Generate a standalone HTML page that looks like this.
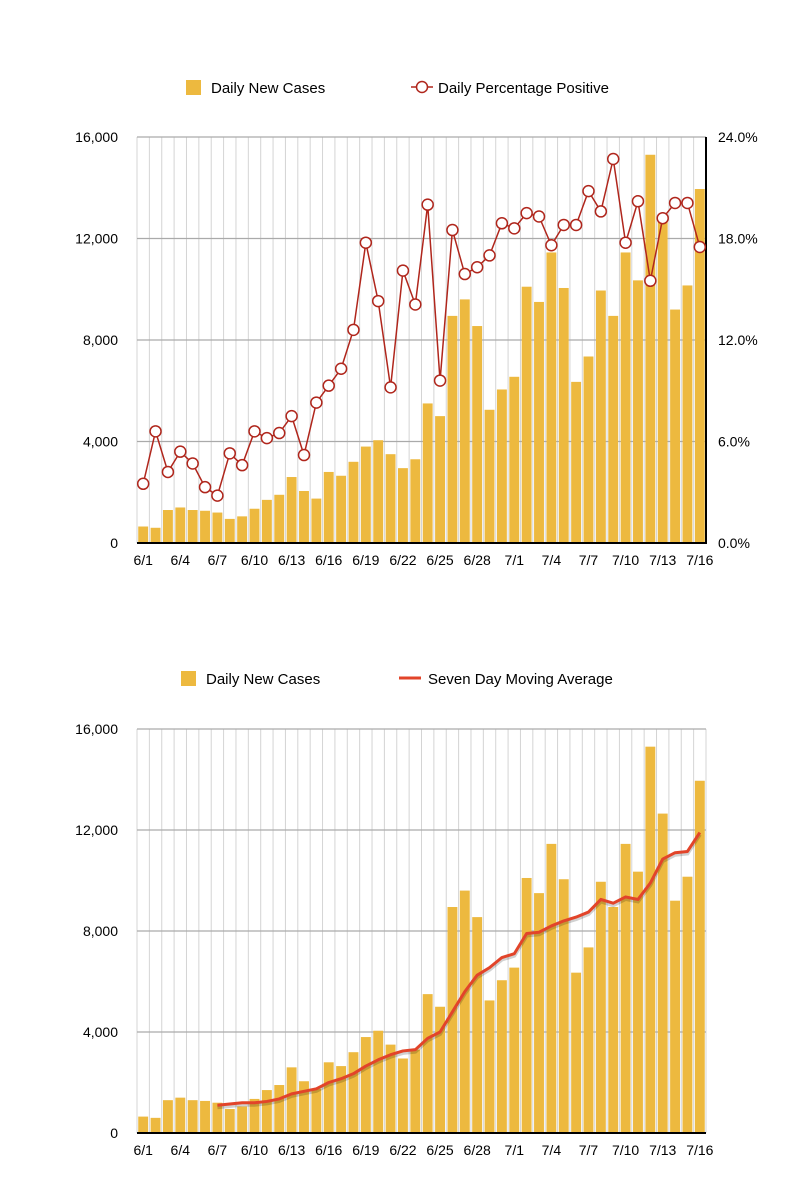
<!DOCTYPE html>
<html><head><meta charset="utf-8"><style>
body{margin:0;background:#fff;}
svg{display:block;font-family:"Liberation Sans",Arial,sans-serif;}
</style></head><body>
<svg id="s" width="811" height="1200" viewBox="0 0 811 1200"></svg>
<script>
const dates=[];
for(let d=1;d<=30;d++)dates.push('6/'+d);
for(let d=1;d<=16;d++)dates.push('7/'+d);
const cases=[650,600,1300,1400,1300,1270,1200,950,1050,1350,1700,1900,2600,2050,1750,2800,2650,3200,3800,4050,3500,2950,3300,5500,5000,8950,9600,8550,5250,6050,6550,10100,9500,11450,10050,6350,7350,9950,8950,11450,10350,15300,12650,9200,10150,13950];
const pct=[3.5,6.6,4.2,5.4,4.7,3.3,2.8,5.3,4.6,6.6,6.2,6.5,7.5,5.2,8.3,9.3,10.3,12.6,17.75,14.3,9.2,16.1,14.1,20.0,9.6,18.5,15.9,16.3,17.0,18.9,18.6,19.5,19.3,17.6,18.8,18.8,20.8,19.6,22.7,17.75,20.2,15.5,19.2,20.1,20.1,17.5];
const avg=[1100,1150,1200,1200,1250,1350,1550,1650,1750,2000,2150,2350,2650,2900,3100,3250,3300,3750,4000,4800,5600,6250,6550,6950,7100,7900,7950,8200,8400,8550,8750,9250,9100,9350,9250,9900,10850,11100,11150,11900];
const avgStart=6;
const leftTicks=[0,4000,8000,12000,16000];
const leftTickLabels=['0','4,000','8,000','12,000','16,000'];
const rightTickLabels=['0.0%','6.0%','12.0%','18.0%','24.0%'];
const dateLabelIdx=[0,3,6,9,12,15,18,21,24,27,30,33,36,39,42,45];

const NS='http://www.w3.org/2000/svg';
const svg=document.getElementById('s');
function el(t,a,p){const e=document.createElementNS(NS,t);for(const k in a)e.setAttribute(k,a[k]);(p||svg).appendChild(e);return e;}

function chart(cfg){
  const g=el('g',{});
  
  
  const L=cfg.L,R=cfg.R,T=cfg.T,B=cfg.B,n=dates.length;
  const slot=(R-L)/n;
  const x=i=>L+slot*(i+0.5);
  const y=v=>B-(v/16000)*(B-T);
  for(let i=0;i<=n;i++){const l=el('line',{x1:L+slot*i,x2:L+slot*i,y1:T,y2:B,stroke:'#d4d4d4','stroke-width':1},g);
    }
  leftTicks.forEach((v,k)=>{
    const l=el('line',{x1:L,x2:R,y1:y(v),y2:y(v),stroke:'#aaa','stroke-width':1.2},g);
    
    const t=el('text',{x:L-19,y:y(v)+5,'text-anchor':'end','font-size':14,fill:'#000'},g);
    t.textContent=leftTickLabels[k];
    
    if(cfg.right){const r=el('text',{x:R+12,y:y(v)+5,'font-size':14,fill:'#000'},g);
      r.textContent=rightTickLabels[k];
      }
  });
  cases.forEach((v,i)=>{
    const b=el('rect',{x:x(i)-slot*0.4,y:y(v),width:slot*0.8,height:B-y(v),fill:'#edb93f'},g);
    
  });
  const ax=el('line',{x1:L,x2:R,y1:B,y2:B,stroke:'#000','stroke-width':2},g);
  
  if(cfg.right){const ra=el('line',{x1:R,x2:R,y1:T,y2:B+1,stroke:'#000','stroke-width':2},g);
    }
  dateLabelIdx.forEach(i=>{
    const t=el('text',{x:x(i),y:B+22,'text-anchor':'middle','font-size':14,fill:'#000'},g);
    t.textContent=dates[i];
    
  });
  if(cfg.right){
    const yp=v=>B-(v/24)*(B-T);
    const pts=pct.map((v,i)=>x(i)+','+yp(v)).join(' ');
    const pl=el('polyline',{points:pts,fill:'none',stroke:'#b0261c','stroke-width':1.5},g);
    
    pct.forEach((v,i)=>{const c=el('circle',{cx:x(i),cy:yp(v),r:5.5,fill:'#fff',stroke:'#b0261c','stroke-width':1.5},g);
      });
  } else {
    const pts=avg.map((v,i)=>x(i+avgStart)+','+y(v)).join(' ');
    const sh=el('polyline',{points:avg.map((v,i)=>x(i+avgStart)+','+(y(v)+2)).join(' '),fill:'none',stroke:'rgba(0,0,0,0.18)','stroke-width':4},g);
    
    const pl=el('polyline',{points:pts,fill:'none',stroke:'#e2442a','stroke-width':3,'stroke-linejoin':'round'},g);
    
  }
}
chart({name:'top-chart',L:137,R:706,T:137,B:543,right:true});
chart({name:'bottom-chart',L:137,R:706,T:729,B:1133,right:false});
</script>
<svg style="position:absolute;left:0;top:0" width="811" height="1200">
<g font-family="Liberation Sans,Arial,sans-serif" font-size="15">
<rect x="186" y="80" width="15" height="15" fill="#edb93f"/>
<text x="211" y="93">Daily New Cases</text>
<line x1="411" x2="433" y1="87" y2="87" stroke="#b0261c" stroke-width="1.5"/>
<circle cx="422" cy="87" r="5.5" fill="#fff" stroke="#b0261c" stroke-width="1.5"/>
<text x="438" y="93">Daily Percentage Positive</text>
<rect x="181" y="671" width="15" height="15" fill="#edb93f"/>
<text x="206" y="684">Daily New Cases</text>
<line x1="399" x2="421" y1="678" y2="678" stroke="#e2442a" stroke-width="3"/>
<text x="428" y="684">Seven Day Moving Average</text>
</g></svg>
</body></html>
